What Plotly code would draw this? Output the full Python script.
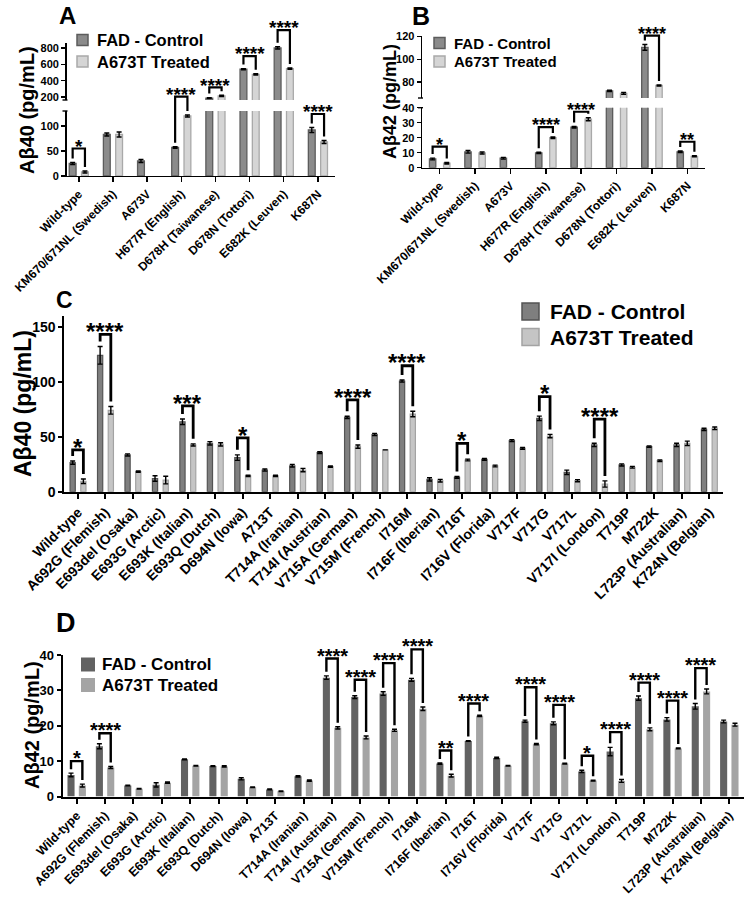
import plotly.graph_objects as go

W, H = 745, 900
FONT = "Liberation Sans, Arial, Helvetica, sans-serif"

# ---------------- data ----------------
cats_ab = ["Wild-type", "KM670/671NL (Swedish)", "A673V", "H677R (English)",
           "D678H (Taiwanese)", "D678N (Tottori)", "E682K (Leuven)", "K687N"]

a40_ctrl = [25, 83, 30, 57, 188, 540, 800, 92]
a40_ctrl_err = [2, 3, 3, 1.5, 6, 8, 14, 5]
a40_trt = [8, 83, None, 120, 215, 477, 548, 68]
a40_trt_err = [2, 5, 0, 2, 8, 8, 8, 3]

b42_ctrl = [5.8, 10.6, 6.3, 9.9, 27.0, 72.2, 110.5, 10.6]
b42_ctrl_err = [0.6, 0.9, 0.6, 0.4, 0.5, 0.6, 2.5, 0.5]
b42_trt = [3.0, 9.8, None, 20.0, 32.3, 70.0, 77.0, 7.6]
b42_trt_err = [0.5, 0.7, 0, 0.5, 1.0, 0.8, 0.5, 0.4]

cats_cd = ["Wild-type", "A692G (Flemish)", "E693del (Osaka)", "E693G (Arctic)",
           "E693K (Italian)", "E693Q (Dutch)", "D694N (Iowa)", "A713T",
           "T714A (Iranian)", "T714I (Austrian)", "V715A (German)", "V715M (French)",
           "I716M", "I716F (Iberian)", "I716T", "I716V (Florida)", "V717F", "V717G",
           "V717L", "V717I (London)", "T719P", "M722K", "L723P (Australian)", "K724N (Belgian)"]

c40_ctrl = [26.4, 124, 33.4, 12, 63.6, 44, 31, 19.7, 23.6, 35.5, 67.6, 52,
            100.6, 11.2, 13, 29.4, 46.4, 66.7, 17.6, 42.5, 24.3, 41, 42.5, 56.7]
c40_ctrl_err = [1.5, 8, 1, 2.5, 2.5, 1.5, 2.5, 1, 1.2, 0.8, 1, 1,
                1, 1.5, 0.8, 0.8, 0.9, 2, 2, 1.5, 1, 0.7, 1.5, 1]
c40_trt = [9.5, 74, 18.2, 10.6, 42.5, 43, 14.3, 14.3, 19.7, 22.8, 41, 38,
           70.6, 10, 28.8, 23.4, 39.4, 50.6, 10, 7, 22.2, 28.2, 44, 57.6]
c40_trt_err = [2, 3.5, 0.6, 3.5, 1, 1.5, 0.6, 0.6, 1.5, 0.6, 1.5, 0,
               2.5, 1.2, 0.8, 0.8, 0.8, 1.5, 1, 2.8, 0.8, 0.7, 2, 1.2]

d42_ctrl = [6.1, 14.2, 3.1, 3.3, 10.5, 8.6, 5.0, 2.0, 5.7, 33.6, 28.1, 29.1,
            33.0, 9.3, 15.7, 10.9, 21.3, 20.7, 7.1, 12.7, 27.8, 21.8, 25.5, 21.2]
d42_ctrl_err = [0.5, 0.7, 0.1, 0.6, 0.1, 0.1, 0.3, 0.1, 0.2, 0.5, 0.4, 0.5,
                0.4, 0.2, 0.1, 0.2, 0.3, 0.4, 0.3, 1.2, 0.6, 0.5, 0.8, 0.4]
d42_trt = [3.1, 8.2, 2.2, 3.9, 8.7, 8.5, 2.6, 1.5, 4.5, 19.4, 16.7, 18.7,
           24.8, 5.9, 22.8, 8.7, 14.8, 9.3, 4.5, 4.4, 19.0, 13.6, 29.7, 20.3]
d42_trt_err = [0.4, 0.3, 0.1, 0.2, 0.1, 0.2, 0.1, 0.1, 0.2, 0.3, 0.4, 0.3,
               0.5, 0.4, 0.2, 0.1, 0.2, 0.1, 0.1, 0.4, 0.4, 0.1, 0.7, 0.4]

# significance: category index, label, bracket height (data units)
sig_a_idx = [0, 3, 4, 5, 6, 7]
sig_a_lab = ["*", "****", "****", "****", "****", "****"]
sig_a_top = [55, 205, 319, 701, 1018, 124]

sig_b_idx = [0, 3, 4, 6, 7]
sig_b_lab = ["*", "****", "****", "****", "**"]
sig_b_top = [14, 27, 37.3, 120.9, 17.3]

sig_c_idx = [0, 1, 4, 6, 10, 12, 14, 17, 19]
sig_c_lab = ["*", "****", "***", "*", "****", "****", "*", "*", "****"]
sig_c_top = [38, 143, 78, 49, 83.5, 114.5, 44, 86.5, 66]

sig_d_idx = [0, 1, 9, 10, 11, 12, 13, 14, 16, 17, 18, 19, 20, 21, 22]
sig_d_lab = ["*", "****", "****", "****", "****", "****", "**", "****", "****",
             "****", "*", "****", "****", "****", "****"]
sig_d_top = [10.0, 17.9, 39.0, 33.0, 37.7, 41.6, 13.0, 26.3, 30.9, 25.9, 11.5,
             18.2, 32.2, 27.1, 36.3]

legend_labels = ["FAD - Control", "A673T Treated"]

# ---------------- geometry / styles ----------------
PANELS = {
    "A": dict(xa="x", x0=66.5, x1=335, xr=(-0.36, 7.5), n=8,
              segs=[("y", 0, 130, 176, 111), ("y2", 165, 860, 100, 43)],
              off=0.18, w=0.20, dark="#8b8b8b", dark_line="#5c5c5c",
              light="#d5d5d5", light_line="#a9a9a9", lw=1.3,
              star_f=19, star_gap=7.5, br_w=2.2, pad=4),
    "B": dict(xa="x2", x0=422, x1=705, xr=(-0.5, 7.5), n=8,
              segs=[("y3", 0, 40, 167.7, 107.7), ("y4", 66, 120.5, 98, 36)],
              off=0.20, w=0.18, dark="#8b8b8b", dark_line="#5c5c5c",
              light="#d5d5d5", light_line="#a9a9a9", lw=1.3,
              star_f=18, star_gap=7, br_w=2.2, pad=4),
    "C": dict(xa="x3", x0=64.3, x1=723.1, xr=(-0.5, 23.5), n=24,
              segs=[("y5", 0, 160, 491.7, 315.7)],
              off=0.195, w=0.19, dark="#7f7f7f", dark_line="#545454",
              light="#c5c5c5", light_line="#a3a3a3", lw=1.2,
              star_f=24, star_gap=9.5, br_w=2.8, pad=5),
    "D": dict(xa="x4", x0=62.5, x1=743.5, xr=(-0.5, 23.5), n=24,
              segs=[("y6", 0, 40, 796.5, 655)],
              off=0.20, w=0.25, dark="#626262", dark_line="#626262",
              light="#a4a4a4", light_line="#a4a4a4", lw=0,
              star_f=20, star_gap=8.5, br_w=2.4, pad=4),
}

fig = go.Figure()


def vy(p, v):
    segs = p["segs"]
    s = segs[0] if (len(segs) == 1 or v <= segs[0][2]) else segs[1]
    _, r0, r1, p0, p1 = s
    return p0 + (v - r0) / (r1 - r0) * (p1 - p0)


def cxp(p, pos):
    r0, r1 = p["xr"]
    return p["x0"] + (pos - r0) / (r1 - r0) * (p["x1"] - p["x0"])


def add_panel(p, cats, ctrl, ctrl_err, trt, trt_err, sig_idx, sig_lab, sig_top):
    for seg in p["segs"]:
        ya = seg[0]
        for vals, errs, fill, line, sign in ((ctrl, ctrl_err, p["dark"], p["dark_line"], -1),
                                             (trt, trt_err, p["light"], p["light_line"], 1)):
            fig.add_trace(go.Bar(
                x=cats, y=vals, xaxis=p["xa"], yaxis=ya,
                width=p["w"], offset=sign * p["off"] - p["w"] / 2,
                marker=dict(color=fill, line=dict(color=line, width=p["lw"])),
                error_y=dict(type="data", array=errs, visible=True, color="black",
                             thickness=1.4, width=2.5),
                showlegend=False, hoverinfo="skip"))
    f = p["star_f"]
    for i, lab, top in zip(sig_idx, sig_lab, sig_top):
        xl = cxp(p, i - p["off"])
        xr = cxp(p, i + p["off"])
        yt = vy(p, top)
        yl = vy(p, ctrl[i] + ctrl_err[i]) - p["pad"]
        yr = vy(p, trt[i] + trt_err[i]) - p["pad"]
        path = (f"M {xl/W},{1-yl/H} L {xl/W},{1-yt/H} "
                f"L {xr/W},{1-yt/H} L {xr/W},{1-yr/H}")
        fig.add_shape(type="path", path=path, xref="paper", yref="paper",
                      line=dict(color="black", width=p["br_w"]))
        yc = yt - p["star_gap"] + 0.28 * f
        fig.add_annotation(x=(xl + xr) / 2 / W, y=1 - yc / H, xref="paper", yref="paper",
                           text=lab, showarrow=False, xanchor="center", yanchor="middle",
                           font=dict(size=f, family=FONT, color="black", weight="bold"))


add_panel(PANELS["A"], cats_ab, a40_ctrl, a40_ctrl_err, a40_trt, a40_trt_err,
          sig_a_idx, sig_a_lab, sig_a_top)
add_panel(PANELS["B"], cats_ab, b42_ctrl, b42_ctrl_err, b42_trt, b42_trt_err,
          sig_b_idx, sig_b_lab, sig_b_top)
add_panel(PANELS["C"], cats_cd, c40_ctrl, c40_ctrl_err, c40_trt, c40_trt_err,
          sig_c_idx, sig_c_lab, sig_c_top)
add_panel(PANELS["D"], cats_cd, d42_ctrl, d42_ctrl_err, d42_trt, d42_trt_err,
          sig_d_idx, sig_d_lab, sig_d_top)


def xaxis_cfg(p, cats, anchor, fs, lw):
    return dict(domain=[p["x0"] / W, p["x1"] / W], anchor=anchor, type="category",
                range=list(p["xr"]), tickmode="array", tickvals=cats, ticktext=cats,
                tickangle=-45, showgrid=False, zeroline=False, showline=True,
                automargin=False, fixedrange=True,
                linecolor="black", linewidth=lw, ticks="outside", ticklen=5,
                tickwidth=lw, tickcolor="black",
                tickfont=dict(size=fs, family=FONT, color="black", weight="bold"))


def yaxis_cfg(p, seg, fs, lw, tickvals):
    _, r0, r1, p0, p1 = seg
    return dict(domain=[1 - p0 / H, 1 - p1 / H], anchor=p["xa"], range=[r0, r1],
                tickmode="array", tickvals=tickvals, showgrid=False, zeroline=False,
                automargin=False, fixedrange=True,
                showline=True, linecolor="black", linewidth=lw, ticks="outside",
                ticklen=4, tickwidth=lw, tickcolor="black",
                tickfont=dict(size=fs, family=FONT, color="black", weight="bold"))


pA, pB, pC, pD = PANELS["A"], PANELS["B"], PANELS["C"], PANELS["D"]
fig.update_layout(
    width=W, height=H, autosize=False,
    margin=dict(l=0, r=0, t=0, b=0, pad=0),
    paper_bgcolor="white", plot_bgcolor="white",
    showlegend=False, barmode="overlay",
    font=dict(family=FONT, color="black"),
    xaxis=xaxis_cfg(pA, cats_ab, "y", 12, 1.4),
    yaxis=yaxis_cfg(pA, pA["segs"][0], 11, 1.4, [0, 50, 100]),
    yaxis2=yaxis_cfg(pA, pA["segs"][1], 11, 1.4, [200, 400, 600, 800]),
    xaxis2=xaxis_cfg(pB, cats_ab, "y3", 12, 1.4),
    yaxis3=yaxis_cfg(pB, pB["segs"][0], 11, 1.4, [0, 10, 20, 30, 40]),
    yaxis4=yaxis_cfg(pB, pB["segs"][1], 11, 1.4, [80, 100, 120]),
    xaxis3=xaxis_cfg(pC, cats_cd, "y5", 14, 2),
    yaxis5=yaxis_cfg(pC, pC["segs"][0], 14, 2, [0, 50, 100, 150]),
    xaxis4=xaxis_cfg(pD, cats_cd, "y6", 12.5, 2),
    yaxis6=yaxis_cfg(pD, pD["segs"][0], 13, 2, [0, 10, 20, 30, 40]),
)

# axis-break marks on broken axes
for p in (pA, pB):
    for yb in (p["segs"][0][4], p["segs"][1][3]):
        fig.add_shape(type="line", xref="paper", yref="paper",
                      x0=(p["x0"] - 4) / W, x1=(p["x0"] + 1) / W,
                      y0=1 - yb / H, y1=1 - yb / H,
                      line=dict(color="black", width=1.4))


def legend(x_sq, y_rows, sq, fs, p, text_x):
    fills = [(p["dark"], p["dark_line"]), (p["light"], p["light_line"])]
    for (fill, line), yc, lab in zip(fills, y_rows, legend_labels):
        fig.add_shape(type="rect", xref="paper", yref="paper",
                      x0=x_sq / W, x1=(x_sq + sq) / W,
                      y0=1 - (yc + sq / 2) / H, y1=1 - (yc - sq / 2) / H,
                      fillcolor=fill, line=dict(color=line, width=1.5 if p["lw"] else 0))
        fig.add_annotation(x=text_x / W, y=1 - yc / H, xref="paper", yref="paper",
                           text=lab, showarrow=False, xanchor="left", yanchor="middle",
                           borderpad=0,
                           font=dict(size=fs, family=FONT, color="black", weight="bold"))


legend(77, [40, 61.5], 11, 16.5, pA, 96)
legend(434, [43, 61.5], 11, 15, pB, 453)
legend(522, [311.5, 337], 17, 21, pC, 549)
legend(81, [664.5, 685], 14, 17, pD, 101)

# panel letters
for lab, x, y, fs in (("A", 67, 15, 24), ("B", 421, 16, 25), ("C", 64, 300, 23), ("D", 66, 623, 27)):
    fig.add_annotation(x=x / W, y=1 - y / H, xref="paper", yref="paper", text=lab,
                       showarrow=False, xanchor="center", yanchor="middle",
                       font=dict(size=fs, family=FONT, color="black", weight="bold"))

# y-axis titles
for lab, x, y, fs in (("Aβ40 (pg/mL)", 27, 110, 20), ("Aβ42 (pg/mL)", 390, 102, 18),
                      ("Aβ40 (pg/mL)", 23, 404, 23), ("Aβ42 (pg/mL)", 32, 725, 20)):
    fig.add_annotation(x=x / W, y=1 - y / H, xref="paper", yref="paper", text=lab,
                       textangle=-90, showarrow=False, xanchor="center", yanchor="middle",
                       font=dict(size=fs, family=FONT, color="black", weight="bold"))

# remove the default page margin so the 745x900 figure fills the window exactly
PAGE_FIX = ("document.body.style.margin='0';document.body.style.padding='0';"
            "document.body.style.overflow='hidden';"
            "document.documentElement.style.overflow='hidden';")

fig.write_html("out.html", post_script=PAGE_FIX,
               config={"displayModeBar": False, "staticPlot": True})
